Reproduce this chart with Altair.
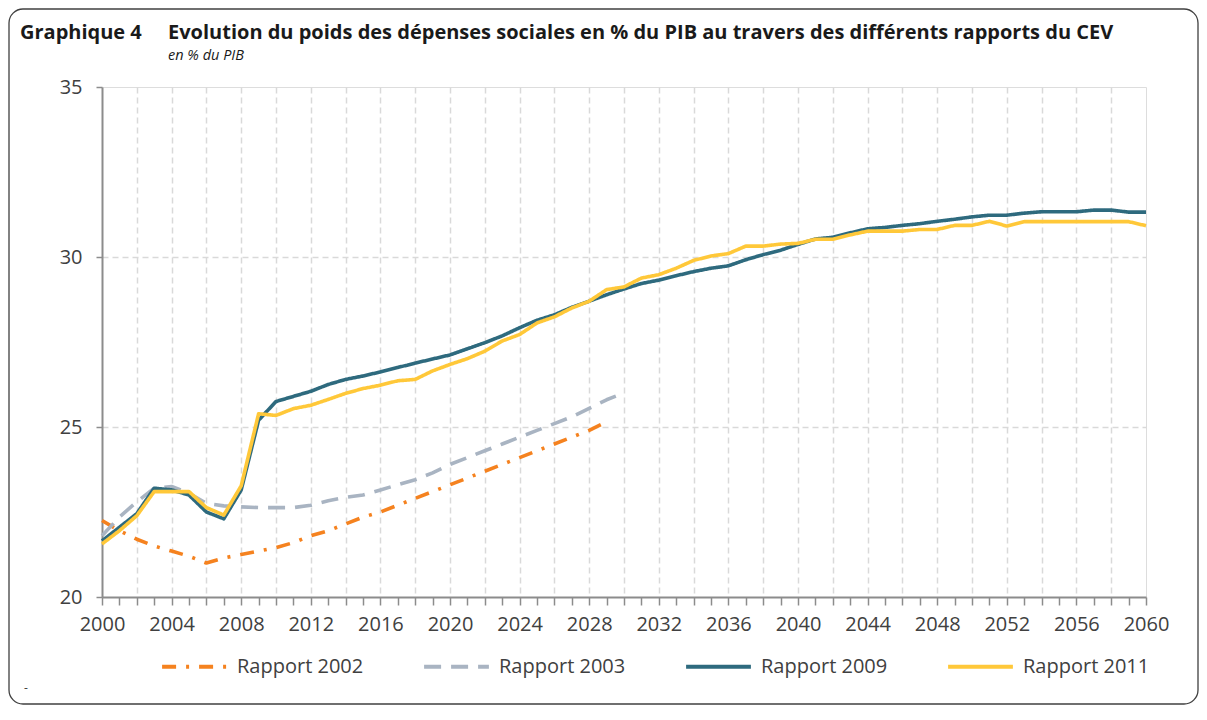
import altair as alt
import pandas as pd

# ---- data ----
years_2002 = list(range(2000, 2030))
rapport_2002 = [22.25, 21.95, 21.7, 21.5, 21.35, 21.2, 21.0, 21.15, 21.25, 21.35,
                21.45, 21.6, 21.8, 21.95, 22.15, 22.35, 22.5, 22.7, 22.9, 23.1,
                23.3, 23.5, 23.7, 23.9, 24.1, 24.3, 24.5, 24.7, 24.9, 25.15]

years_2003 = list(range(2000, 2031))
rapport_2003 = [21.8, 22.35, 22.8, 23.2, 23.25, 23.05, 22.75, 22.68, 22.65, 22.63,
                22.63, 22.63, 22.7, 22.83, 22.93, 23.0, 23.15, 23.3, 23.45, 23.65,
                23.9, 24.1, 24.3, 24.5, 24.7, 24.9, 25.1, 25.3, 25.55, 25.8, 26.0]

years_2009 = list(range(2000, 2061))
rapport_2009 = [21.65, 22.05, 22.45, 23.2, 23.15, 23.0, 22.5, 22.3, 23.15, 25.2,
                25.75, 25.9, 26.05, 26.25, 26.4, 26.5, 26.62, 26.75, 26.88, 27.0,
                27.12, 27.3, 27.48, 27.68, 27.92, 28.14, 28.3, 28.52, 28.7, 28.89,
                29.06, 29.22, 29.32, 29.45, 29.57, 29.67, 29.74, 29.92, 30.07, 30.2,
                30.37, 30.53, 30.58, 30.71, 30.83, 30.87, 30.93, 30.98, 31.05, 31.11,
                31.18, 31.23, 31.23, 31.29, 31.33, 31.33, 31.33, 31.38, 31.38, 31.32,
                31.32]

years_2011 = list(range(2000, 2061))
rapport_2011 = [21.56, 21.95, 22.39, 23.1, 23.1, 23.1, 22.63, 22.41, 23.27, 25.39,
                25.34, 25.54, 25.64, 25.81, 25.99, 26.13, 26.23, 26.36, 26.4, 26.65,
                26.84, 27.01, 27.23, 27.53, 27.72, 28.06, 28.24, 28.5, 28.7, 29.04,
                29.12, 29.38, 29.48, 29.67, 29.9, 30.03, 30.1, 30.32, 30.32, 30.38,
                30.4, 30.52, 30.52, 30.65, 30.76, 30.76, 30.76, 30.81, 30.81, 30.93,
                30.93, 31.05, 30.91, 31.04, 31.04, 31.04, 31.04, 31.04, 31.04, 31.04,
                30.92]

series_names = ["Rapport 2002", "Rapport 2003", "Rapport 2009", "Rapport 2011"]
series_colors = ["#F5821F", "#A9B4C2", "#2E6A7E", "#FFC839"]
series_dashes = [[14, 10, 3, 10], [17, 10], [1, 0], [1, 0]]

title_main = "Evolution du poids des dépenses sociales en % du PIB au travers des différents rapports du CEV"
title_label = "Graphique 4"
subtitle = "en % du PIB"

# ---- long table ----
frames = []
for name, yrs, vals in [
    (series_names[0], years_2002, rapport_2002),
    (series_names[1], years_2003, rapport_2003),
    (series_names[2], years_2009, rapport_2009),
    (series_names[3], years_2011, rapport_2011),
]:
    frames.append(pd.DataFrame({"year": yrs, "value": vals, "serie": name}))
df = pd.concat(frames, ignore_index=True)

FONT = "Open Sans"
AXIS_GREY = "#8c8c8c"
GRID_GREY = "#d9d9d9"

x_axis = alt.Axis(
    values=list(range(2000, 2061)),
    format="d",
    labelExpr="datum.value % 4 === 0 ? datum.label : ''",
    grid=True,
    gridDash=[6, 4],
    gridColor=GRID_GREY,
    gridWidth=1.5,
    gridOpacity={"condition": {"test": "datum.value % 2 === 0 && datum.value > 2000 && datum.value < 2060", "value": 1}, "value": 0},
    domainColor=AXIS_GREY,
    domainWidth=2,
    tickColor=AXIS_GREY,
    tickWidth=1.5,
    tickSize=8,
    labelFont=FONT,
    labelFontSize=20,
    labelColor="#404040",
    labelPadding=9,
    labelFlush=False,
    labelOverlap=False,
    title=None,
)

y_axis = alt.Axis(
    values=[20, 25, 30, 35],
    grid=True,
    gridDash=[6, 4],
    gridColor=GRID_GREY,
    gridWidth=1.5,
    gridOpacity={"condition": {"test": "datum.value > 20 && datum.value < 35", "value": 1}, "value": 0},
    domainColor=AXIS_GREY,
    domainWidth=2,
    tickColor=AXIS_GREY,
    tickWidth=1.5,
    tickSize=6,
    labelFont=FONT,
    labelFontSize=20,
    labelColor="#404040",
    labelPadding=14,
    title=None,
)

lines = alt.Chart(df).mark_line(strokeWidth=3.6, strokeJoin="round", strokeCap="butt").encode(
    x=alt.X("year:Q", scale=alt.Scale(domain=[2000, 2060], nice=False, zero=False), axis=x_axis),
    y=alt.Y("value:Q", scale=alt.Scale(domain=[20, 35], nice=False, zero=False), axis=y_axis),
    color=alt.Color(
        "serie:N",
        scale=alt.Scale(domain=series_names, range=series_colors),
        legend=alt.Legend(
            title=None,
            orient="none",
            legendX=58,
            legendY=545,
            direction="horizontal",
            symbolType="stroke",
            symbolSize=4200,
            symbolStrokeWidth=4,
            labelFont=FONT,
            labelFontSize=20,
            labelColor="#404040",
            labelOffset=8,
            columnPadding=52,
        ),
    ),
    strokeDash=alt.StrokeDash(
        "serie:N",
        scale=alt.Scale(domain=series_names, range=series_dashes),
        legend=None,
    ),
    order=alt.Order("year:Q"),
)

one = alt.Data(values=[{"k": 1}])

t_label = alt.Chart(one).mark_text(
    align="left", baseline="middle", font=FONT, fontSize=20, fontWeight="bold", color="#1a1a1a"
).encode(x=alt.value(-82), y=alt.value(-54), text=alt.value(title_label))

t_main = alt.Chart(one).mark_text(
    align="left", baseline="middle", font=FONT, fontSize=20, fontWeight="bold", color="#1a1a1a"
).encode(x=alt.value(66), y=alt.value(-54), text=alt.value(title_main))

t_sub = alt.Chart(one).mark_text(
    align="left", baseline="middle", font=FONT, fontSize=14.5, fontStyle="italic", color="#1a1a1a"
).encode(x=alt.value(66), y=alt.value(-31), text=alt.value(subtitle))

t_dash = alt.Chart(one).mark_text(
    align="left", baseline="middle", font=FONT, fontSize=12, color="#404040"
).encode(x=alt.value(-78), y=alt.value(601), text=alt.value("-"))

border = alt.Chart(one).mark_rect(
    fillOpacity=0, stroke="#404040", strokeWidth=1.3, cornerRadius=14
).encode(x=alt.value(-93), x2=alt.value(1096), y=alt.value(-78), y2=alt.value(617))

chart = alt.layer(border, lines, t_label, t_main, t_sub, t_dash).properties(
    width=1044,
    height=510,
    autosize=alt.AutoSizeParams(type="none"),
    padding={"left": 94, "top": 79, "right": 53, "bottom": 109},
).configure_view(
    stroke="#a6a6a6", strokeWidth=2
).configure(background="white")

chart.save("out.html", embed_options={"renderer": "svg", "actions": False})
